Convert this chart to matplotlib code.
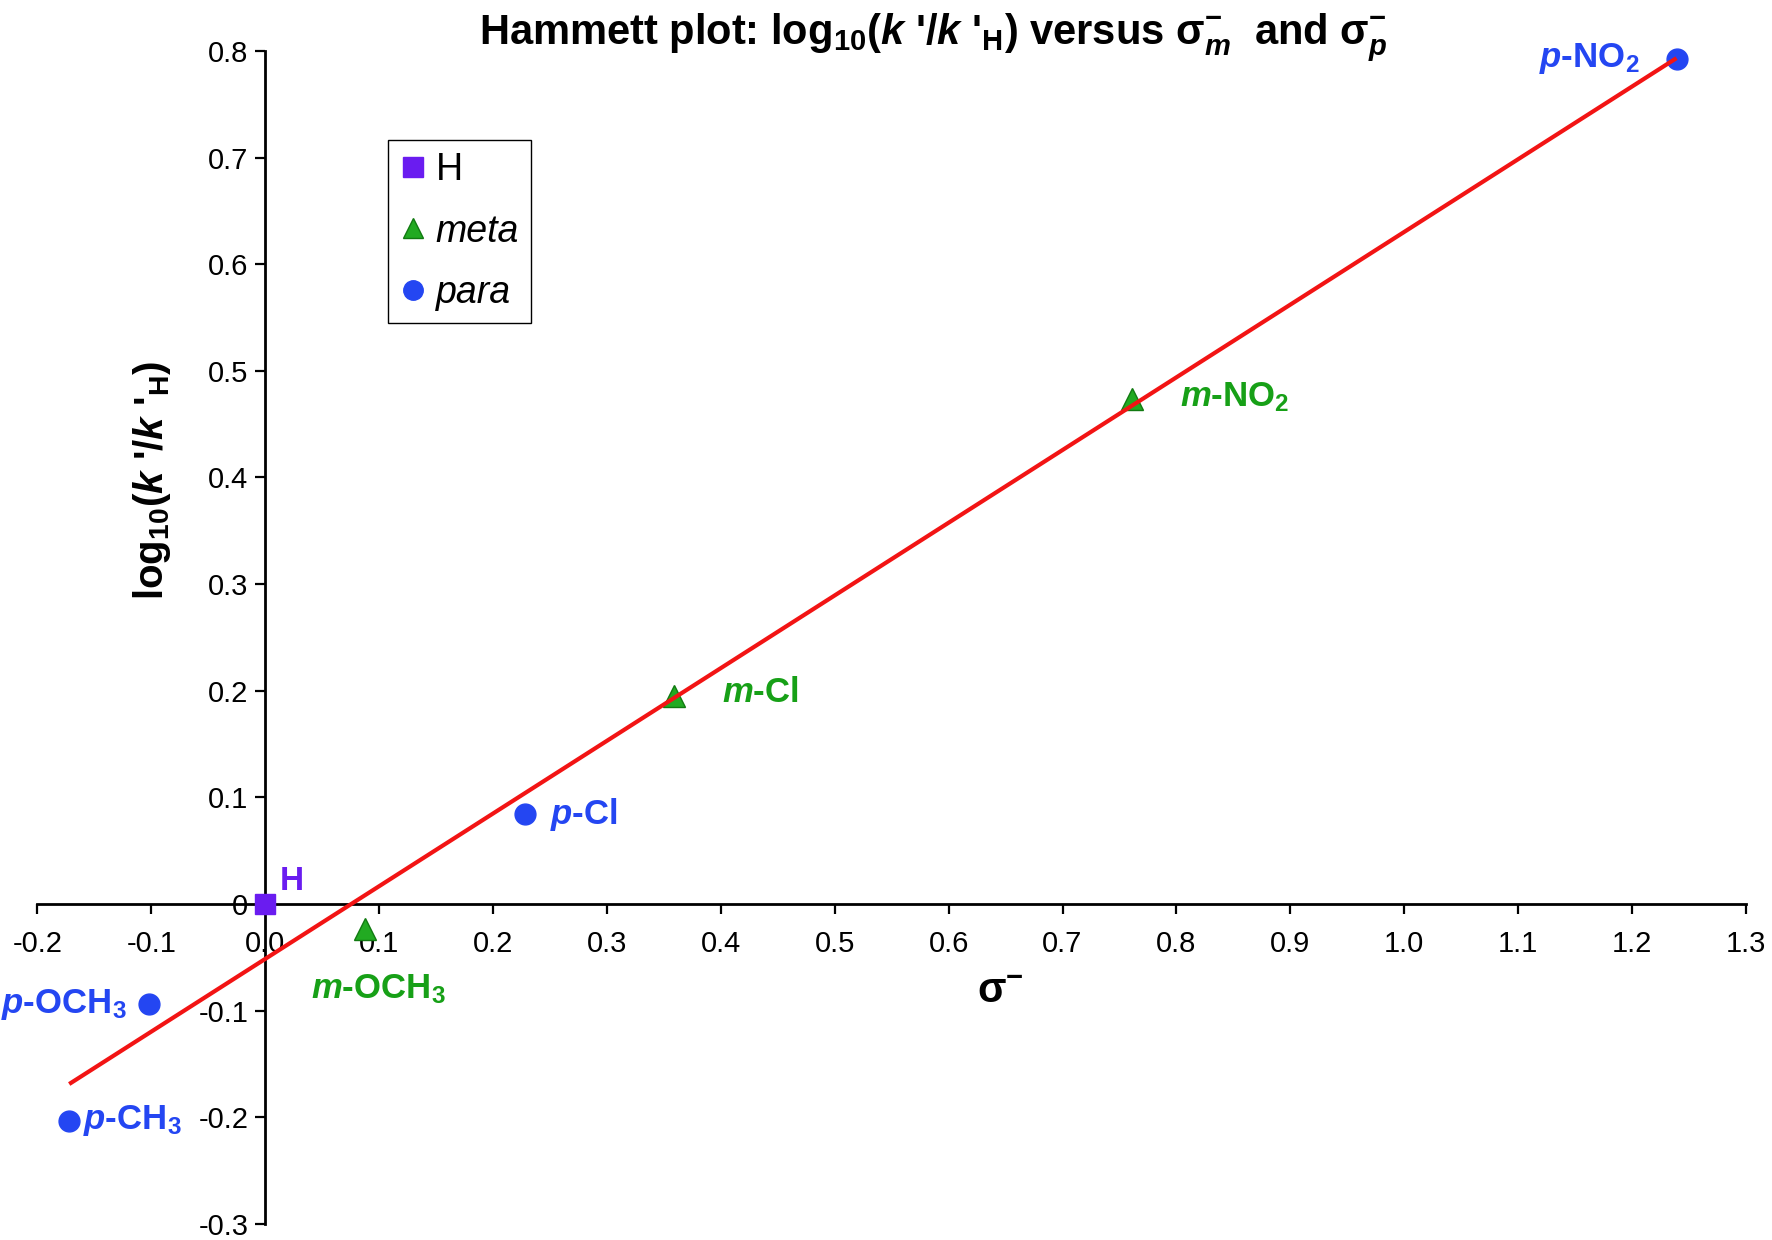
import numpy as np
import matplotlib
matplotlib.use("Agg")
import matplotlib.pyplot as plt
from matplotlib.lines import Line2D

# ---------------- data ----------------
h_x = [0.0]
h_y = [0.0]
h_labels = ["H"]

meta_x = [0.761, 0.359, 0.088]
meta_y = [0.474, 0.195, -0.023]
meta_labels = [r"$\mathit{m}$-NO$_{2}$", r"$\mathit{m}$-Cl", r"$\mathit{m}$-OCH$_{3}$"]

para_x = [1.239, 0.228, -0.102, -0.172]
para_y = [0.792, 0.084, -0.094, -0.203]
para_labels = [r"$\mathit{p}$-NO$_{2}$", r"$\mathit{p}$-Cl", r"$\mathit{p}$-OCH$_{3}$",
               r"$\mathit{p}$-CH$_{3}$"]

x_ticks = [-0.2, -0.1, 0.0, 0.1, 0.2, 0.3, 0.4, 0.5, 0.6, 0.7, 0.8, 0.9, 1.0, 1.1, 1.2, 1.3]
x_tick_labels = ["-0.2", "-0.1", "0.0", "0.1", "0.2", "0.3", "0.4", "0.5", "0.6", "0.7",
                 "0.8", "0.9", "1.0", "1.1", "1.2", "1.3"]
y_ticks = [-0.3, -0.2, -0.1, 0.0, 0.1, 0.2, 0.3, 0.4, 0.5, 0.6, 0.7, 0.8]
y_tick_labels = ["-0.3", "-0.2", "-0.1", "0", "0.1", "0.2", "0.3", "0.4", "0.5", "0.6",
                 "0.7", "0.8"]

# ---------------- style ----------------
plt.rcParams["font.family"] = ["Liberation Sans", "DejaVu Sans"]
plt.rcParams["mathtext.fontset"] = "custom"
plt.rcParams["mathtext.rm"] = "Liberation Sans:bold"
plt.rcParams["mathtext.bf"] = "Liberation Sans:bold"
plt.rcParams["mathtext.it"] = "Liberation Sans:italic:bold"
plt.rcParams["mathtext.default"] = "rm"
plt.rcParams["axes.unicode_minus"] = False

PURPLE = "#6A1CF0"
BLUE = "#2446F2"
GREEN_FILL = "#22AA22"
GREEN_EDGE = "#117A11"
GREEN_TEXT = "#17A017"
RED = "#F21414"

fig = plt.figure(figsize=(17.72, 12.40), dpi=100)
ax = fig.add_axes([37.3 / 1772, 1 - 1224 / 1240, (1746 - 37.3) / 1772, (1224 - 50.9) / 1240])

ax.set_xlim(-0.2, 1.3)
ax.set_ylim(-0.3, 0.8)

for s in ("top", "right"):
    ax.spines[s].set_visible(False)
ax.spines["left"].set_position(("data", 0))
ax.spines["bottom"].set_position(("data", 0))
for s in ("left", "bottom"):
    ax.spines[s].set_linewidth(2.0)

ax.set_xticks(x_ticks)
ax.set_xticklabels(x_tick_labels)
ax.set_yticks(y_ticks)
ax.set_yticklabels(y_tick_labels)
ax.tick_params(axis="both", direction="out", length=7, width=1.6, labelsize=21)
ax.tick_params(axis="x", pad=12)
ax.tick_params(axis="y", pad=5)

# markers
ax.plot(h_x, h_y, ls="none", marker="s", ms=15, mfc=PURPLE, mec=PURPLE, zorder=3, clip_on=False)
ax.plot(meta_x, meta_y, ls="none", marker="^", ms=16, mfc=GREEN_FILL, mec=GREEN_EDGE,
        mew=1.0, zorder=3, clip_on=False)
ax.plot(para_x, para_y, ls="none", marker="o", ms=15, mfc=BLUE, mec=BLUE, zorder=3, clip_on=False)

# regression line through all points
all_x = np.array(h_x + meta_x + para_x)
all_y = np.array(h_y + meta_y + para_y)
slope, intercept = np.polyfit(all_x, all_y, 1)
xl = np.array([all_x.min(), all_x.max()])
ax.plot(xl, slope * xl + intercept, color=RED, lw=3.0, zorder=4, solid_capstyle="butt")

# point labels (offsets in pixels)
h_off = [((15, 14), "left", 24)]
meta_off = [((48, -8), "left", 25), ((48, -6), "left", 25), ((-54, -70), "left", 25)]
para_off = [((-37, -8), "right", 25), ((25, -10), "left", 25), ((-22, -9), "right", 25),
            ((14, -8), "left", 25)]

for xs, ys, labs, offs, col in ((h_x, h_y, h_labels, h_off, PURPLE),
                                (meta_x, meta_y, meta_labels, meta_off, GREEN_TEXT),
                                (para_x, para_y, para_labels, para_off, BLUE)):
    for x, y, lab, (off, ha, fs) in zip(xs, ys, labs, offs):
        ax.annotate(lab, (x, y), xytext=off, textcoords="offset pixels", ha=ha,
                    va="baseline", fontsize=fs, fontweight="bold", color=col,
                    annotation_clip=False)

# legend
handles = [
    Line2D([], [], ls="none", marker="s", ms=14, mfc=PURPLE, mec=PURPLE),
    Line2D([], [], ls="none", marker="^", ms=15, mfc=GREEN_FILL, mec=GREEN_EDGE, mew=1.0),
    Line2D([], [], ls="none", marker="o", ms=14, mfc=BLUE, mec=BLUE),
]
leg = ax.legend(handles, ["H", "meta", "para"], loc="upper left",
                bbox_to_anchor=(388 / 1772, 1 - 140 / 1240), bbox_transform=fig.transFigure,
                borderaxespad=0, fontsize=27, handlelength=0.7, handletextpad=0.25,
                borderpad=0.32, labelspacing=0.68, fancybox=False, framealpha=1)
leg.get_frame().set_edgecolor("black")
leg.get_frame().set_linewidth(1.0)
texts = leg.get_texts()
texts[1].set_fontstyle("italic")
texts[2].set_fontstyle("italic")

# title and axis labels
fig.text(933 / 1772, 1 - 44 / 1240,
         r"Hammett plot: log$_{10}$($\mathit{k}$ '/$\mathit{k}$ '$_{\mathrm{H}}$) versus "
         r"$\sigma^{-}_{\mathit{m}}$  and $\sigma^{-}_{\mathit{p}}$",
         ha="center", va="baseline", fontsize=30, fontweight="bold")
fig.text(1000 / 1772, 1 - 1003 / 1240, r"$\sigma^{-}$", ha="center", va="baseline",
         fontsize=30, fontweight="bold")
fig.text(152 / 1772, 1 - 480 / 1240,
         r"log$_{10}$($\mathit{k}$ '/$\mathit{k}$ '$_{\mathrm{H}}$)",
         rotation=90, ha="center", va="center", fontsize=29, fontweight="bold")

fig.savefig("out.png", dpi=100)
